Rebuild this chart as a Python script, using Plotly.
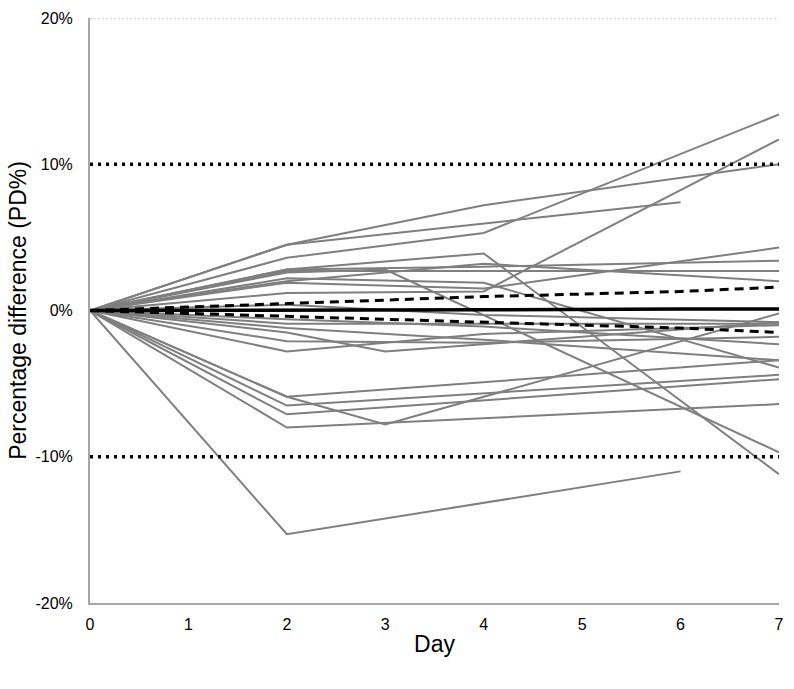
import plotly.graph_objects as go

days = [0, 2, 3, 4, 6, 7]
N = None

# individual subjects (percentage difference, None = not measured)
subjects = [
    [0, 4.5, N, 7.2, N, 10.0],
    [0, 4.5, N, N, 7.4, N],
    [0, 3.6, N, 5.3, N, 13.4],
    [0, 2.8, N, 3.9, N, -11.2],
    [0, 2.6, 2.8, N, N, -9.7],
    [0, 2.8, N, 3.0, N, 3.4],
    [0, 2.7, N, 2.7, N, 2.7],
    [0, 2.0, N, 3.2, N, 2.0],
    [0, 1.9, N, 1.5, N, 4.3],
    [0, 1.2, N, 1.3, N, 11.7],
    [0, 2.2, N, 1.9, N, -3.9],
    [0, 0.4, N, -0.3, N, -0.8],
    [0, -0.6, N, -1.1, N, -2.3],
    [0, -0.9, N, -0.9, N, -0.9],
    [0, -1.2, N, -2.0, N, -3.4],
    [0, -1.5, -2.8, N, N, -0.8],
    [0, -2.1, N, -2.2, N, -1.8],
    [0, -2.8, N, -1.6, N, -1.0],
    [0, -5.9, -7.8, N, N, -0.2],
    [0, -5.9, N, N, N, -3.4],
    [0, -6.5, N, N, N, -4.4],
    [0, -7.1, N, N, N, -4.7],
    [0, -8.0, N, N, N, -6.4],
    [0, -15.3, N, N, -11.0, N],
]

mean_pd = [0, 0.0, 0.0, 0.05, 0.1, 0.1]
upper_ci = [0, 0.5, 0.7, 0.95, 1.3, 1.6]
lower_ci = [0, -0.4, -0.6, -0.85, -1.2, -1.5]

limit_x = [0, 7]
upper_limit = [10, 10]
lower_limit = [-10, -10]
top_x = [0, 7]
top_y = [20, 20]

y_ticks = [-20, -10, 0, 10, 20]
y_tick_text = ["-20%", "-10%", "0%", "10%", "20%"]
x_ticks = [0, 1, 2, 3, 4, 5, 6, 7]

fig = go.Figure()

for s in subjects:
    fig.add_trace(go.Scatter(x=days, y=s, mode="lines", connectgaps=True,
                             line=dict(color="#7f7f7f", width=2), hoverinfo="skip"))

fig.add_trace(go.Scatter(x=days, y=upper_ci, mode="lines",
                         line=dict(color="black", width=3, dash="9px,6px")))
fig.add_trace(go.Scatter(x=days, y=lower_ci, mode="lines",
                         line=dict(color="black", width=3, dash="9px,6px")))
fig.add_trace(go.Scatter(x=days, y=mean_pd, mode="lines",
                         line=dict(color="black", width=3.5)))

for ly in (upper_limit, lower_limit):
    fig.add_trace(go.Scatter(x=limit_x, y=ly, mode="lines",
                             line=dict(color="black", width=3.5, dash="3px,5px")))

fig.add_trace(go.Scatter(x=top_x, y=top_y, mode="lines",
                         line=dict(color="#b0b0b0", width=1, dash="2px,2px")))

fig.update_layout(
    width=794, height=689,
    margin=dict(l=90, r=15, t=18, b=86),
    paper_bgcolor="white", plot_bgcolor="white",
    showlegend=False,
    font=dict(family="Liberation Sans, Arial, sans-serif", color="black"),
)
fig.update_xaxes(
    range=[0, 7], tickvals=x_ticks, showgrid=False, zeroline=False,
    showline=True, linecolor="#a6a6a6", linewidth=2,
    ticks="", ticklabelstandoff=6, tickfont=dict(size=16),
    title=dict(text="Day", font=dict(size=23), standoff=4),
    automargin=False,
)
fig.update_yaxes(
    range=[-20, 20], tickvals=y_ticks, ticktext=y_tick_text,
    showgrid=False, zeroline=False,
    showline=True, linecolor="#a6a6a6", linewidth=2,
    ticks="", ticklabelstandoff=12, tickfont=dict(size=16),
    title=dict(text="Percentage difference (PD%)", font=dict(size=23), standoff=2),
    automargin=False,
)

fig.write_html("out.html")
